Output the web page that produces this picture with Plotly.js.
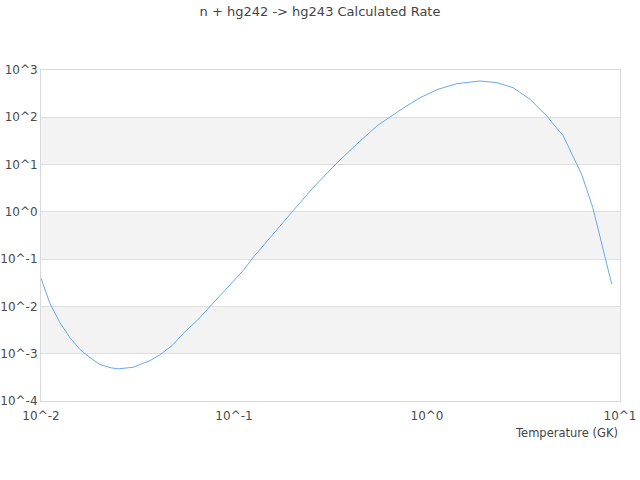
<!DOCTYPE html>
<html>
<head>
<meta charset="utf-8">
<script src="https://cdn.plot.ly/plotly-3.0.1.min.js"></script>
<style>html,body{margin:0;padding:0;background:#fff;}#chart{width:640px;height:480px;}</style>
</head>
<body>
<div id="chart"></div>
<script>
// log10 of temperature (GK) and log10 of rate
const logT = [-2.000, -1.953, -1.902, -1.850, -1.798, -1.746, -1.694, -1.642, -1.601, -1.523,
  -1.435, -1.383, -1.321, -1.264, -1.192, -1.109, -1.036, -0.953, -0.902, -0.798,
  -0.694, -0.591, -0.466, -0.363, -0.259, -0.140, -0.036, 0.057, 0.155, 0.275,
  0.363, 0.446, 0.534, 0.620, 0.706, 0.801, 0.859, 0.957];
const logRate = [-1.403, -1.942, -2.343, -2.660, -2.913, -3.082, -3.230, -3.294, -3.321, -3.287,
  -3.146, -3.019, -2.829, -2.575, -2.301, -1.942, -1.625, -1.245, -0.970, -0.464,
  0.022, 0.508, 1.036, 1.437, 1.817, 2.149, 2.415, 2.592, 2.711, 2.768,
  2.732, 2.626, 2.381, 2.029, 1.606, 0.797, 0.092, -1.526];
const xTickVals = [0.01, 0.1, 1, 10];
const xTickText = ["10^-2", "10^-1", "10^0", "10^1"];
const yTickVals = [1e-4, 1e-3, 1e-2, 1e-1, 1, 10, 100, 1000];
const yTickText = ["10^-4", "10^-3", "10^-2", "10^-1", "10^0", "10^1", "10^2", "10^3"];
const bandEdges = [[1e-3, 1e-2], [1e-1, 1], [10, 100]];

const temps = logT.map(v => Math.pow(10, v));
const rates = logRate.map(v => Math.pow(10, v));

const shapes = bandEdges.map(b => ({
  type: 'rect', xref: 'paper', yref: 'y', x0: 0, x1: 1, y0: b[0], y1: b[1],
  fillcolor: '#f3f3f3', line: {width: 0}, layer: 'below'
}));

const font = {family: 'DejaVu Sans, sans-serif', size: 12, color: '#4a4a4a'};

Plotly.newPlot('chart', [{
  x: temps, y: rates, type: 'scatter', mode: 'lines',
  line: {color: '#66aaee', width: 1}, hoverinfo: 'none'
}], {
  width: 640, height: 480,
  margin: {l: 41, r: 20, t: 70, b: 79},
  paper_bgcolor: '#fff', plot_bgcolor: '#fff',
  font: font,
  showlegend: false,
  title: {text: 'n + hg242 -> hg243 Calculated Rate', font: {family: 'DejaVu Sans, sans-serif', size: 13, color: '#444'}, x: 0.5, xanchor: 'center', y: 0.977, yanchor: 'middle'},
  xaxis: {
    type: 'log', range: [-2, 1], tickvals: xTickVals, ticktext: xTickText,
    showgrid: false, zeroline: false, showline: true, mirror: true, linecolor: '#d9d9d9', linewidth: 1,
    ticks: '', tickfont: font, ticklabelstandoff: 4
  },
  yaxis: {
    type: 'log', range: [-4, 3], tickvals: yTickVals, ticktext: yTickText,
    showgrid: true, gridcolor: '#dedede', gridwidth: 1, zeroline: false,
    showline: true, mirror: true, linecolor: '#d9d9d9', linewidth: 1,
    ticks: '', tickfont: font
  },
  shapes: shapes,
  annotations: [{
    text: 'Temperature (GK)', xref: 'paper', yref: 'paper', x: 1, y: 0,
    xanchor: 'right', yanchor: 'top', yshift: -23, showarrow: false,
    font: {family: 'DejaVu Sans, sans-serif', size: 11.5, color: '#444'}
  }]
}, {staticPlot: true, displayModeBar: false});
</script>
</body>
</html>
